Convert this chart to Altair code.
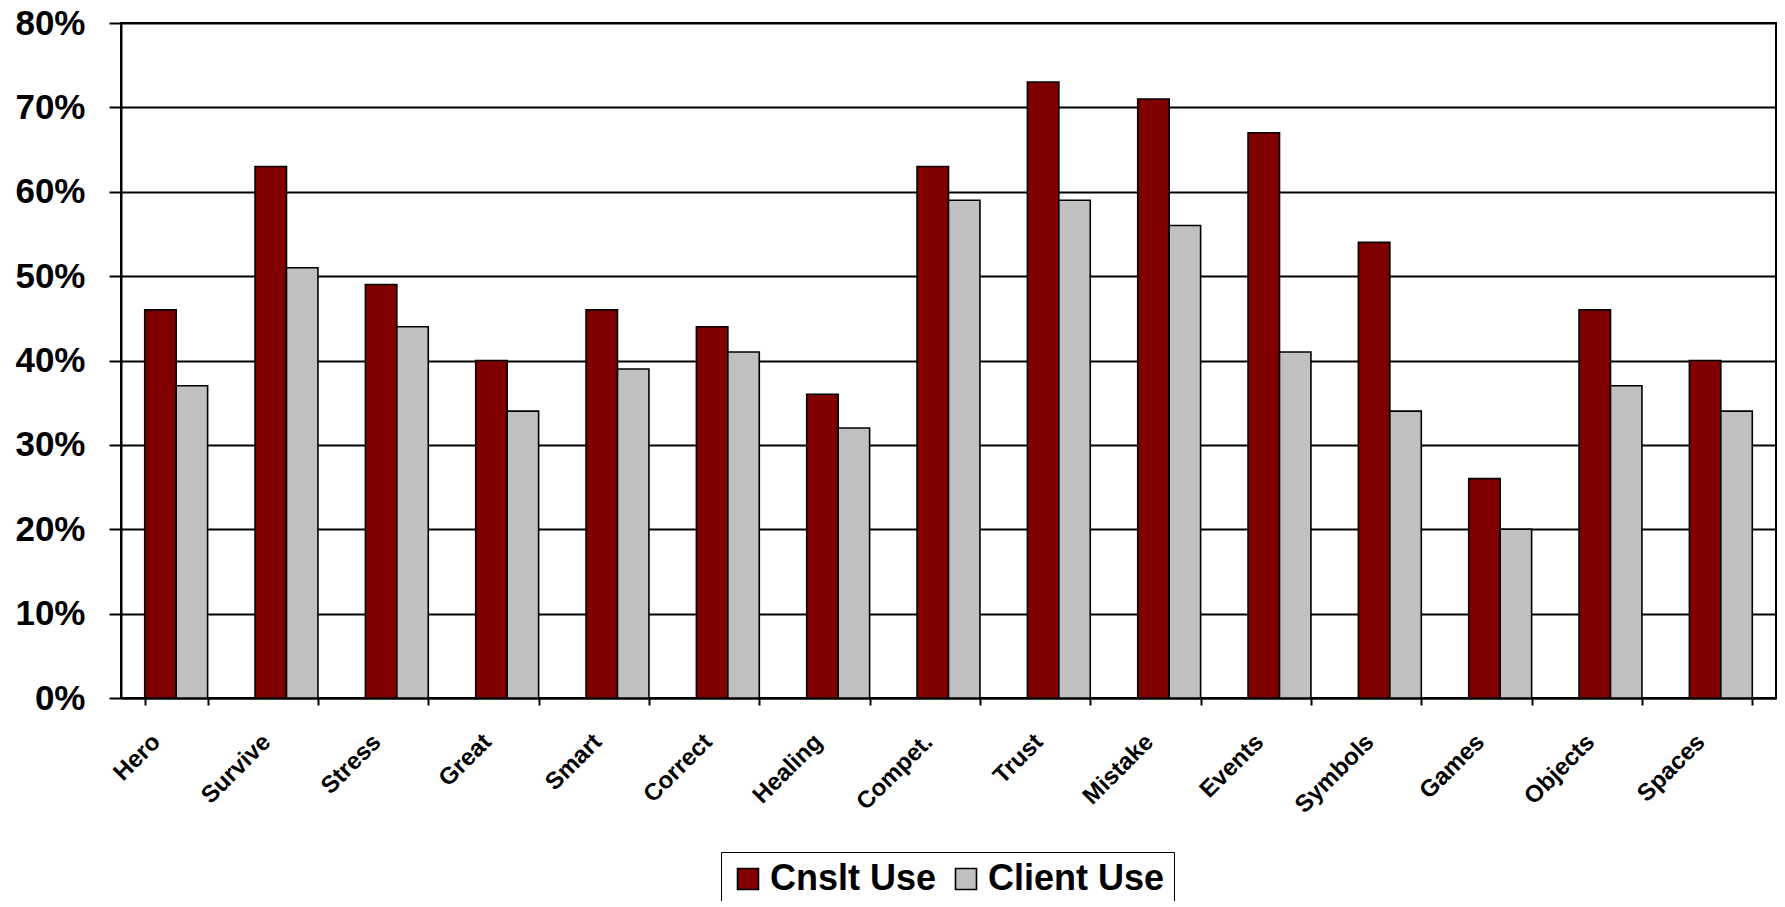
import altair as alt
import pandas as pd

categories = ["Hero", "Survive", "Stress", "Great", "Smart", "Correct", "Healing",
              "Compet.", "Trust", "Mistake", "Events", "Symbols", "Games", "Objects", "Spaces"]
cnslt_use = [46, 63, 49, 40, 46, 44, 36, 63, 73, 71, 67, 54, 26, 46, 40]
client_use = [37, 51, 44, 34, 39, 41, 32, 59, 59, 56, 41, 34, 20, 37, 34]
series = ["Cnslt Use", "Client Use"]
colors = ["#800000", "#C0C0C0"]
y_ticks = [0, 0.1, 0.2, 0.3, 0.4, 0.5, 0.6, 0.7, 0.8]

rows = []
for c, a, b in zip(categories, cnslt_use, client_use):
    rows.append({"cat": c, "series": series[0], "value": a / 100})
    rows.append({"cat": c, "series": series[1], "value": b / 100})
df = pd.DataFrame(rows)

FONT = "Liberation Sans"

chart = alt.Chart(df).mark_bar(stroke="black", strokeWidth=1.6, opacity=1).encode(
    x=alt.X("cat:N", sort=categories, title=None,
            scale=alt.Scale(paddingInner=0.43, paddingOuter=0.215),
            axis=alt.Axis(labelAngle=-45, labelAlign="right", labelBaseline="middle",
                          labelFont=FONT, labelFontWeight="bold", labelFontSize=24,
                          labelColor="black", labelPadding=33, labelOffset=-20,
                          tickBand="extent", tickSize=7, tickWidth=2, tickColor="black",
                          domainColor="black", domainWidth=2, grid=False)),
    xOffset=alt.XOffset("series:N", sort=series,
                        scale=alt.Scale(paddingInner=0, paddingOuter=0)),
    y=alt.Y("value:Q", title=None,
            scale=alt.Scale(domain=[0, 0.8], nice=False),
            axis=alt.Axis(values=y_ticks, format=".0%", labelFont=FONT,
                          labelFontWeight="bold", labelFontSize=35, labelColor="black",
                          labelPadding=24, tickSize=12, tickWidth=2, tickColor="black",
                          domainColor="black", domainWidth=2, grid=True,
                          gridColor="black", gridWidth=2, gridOpacity=1)),
    color=alt.Color("series:N", sort=series,
                    scale=alt.Scale(domain=series, range=colors),
                    legend=alt.Legend(title=None, orient="none", legendX=600, legendY=829,
                                      direction="horizontal", symbolType="square",
                                      symbolSize=441, symbolStrokeColor="black",
                                      symbolStrokeWidth=1.6, symbolOpacity=1,
                                      labelFont=FONT, labelFontWeight="bold",
                                      labelFontSize=36, labelColor="black",
                                      labelLimit=500,
                                      labelOffset=4, columnPadding=11,
                                      padding=9, strokeColor="black",
                                      fillColor="white")),
).properties(
    width=1655, height=675,
    autosize=alt.AutoSizeParams(type="none"),
    padding={"left": 113, "top": 15, "right": 1, "bottom": 203},
).configure_view(stroke="black", strokeWidth=2)

chart.save("out.html", embed_options={"renderer": "svg", "actions": False})
